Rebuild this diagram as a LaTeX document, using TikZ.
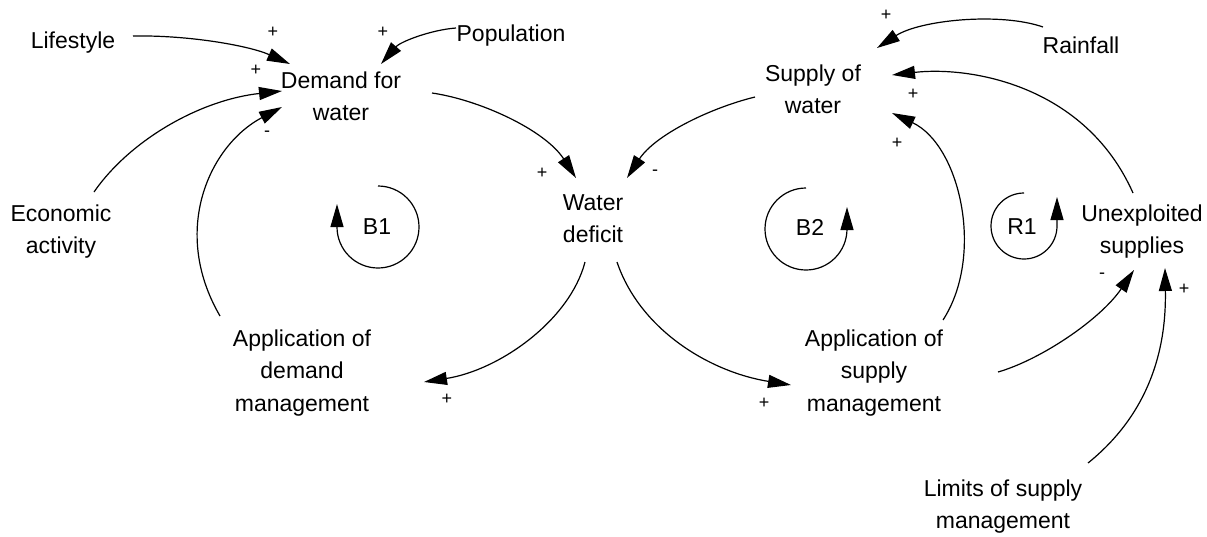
\documentclass[tikz,border=0pt]{standalone}
\usepackage{fontspec}
\setmainfont{Liberation Sans}
\usetikzlibrary{arrows.meta}
\begin{document}
\begin{tikzpicture}[x=1pt,y=-1pt,
  lbl/.style={font=\fontsize{23}{32.5}\selectfont, align=center, inner sep=0pt, anchor=base},
  sgn/.style={font=\fontsize{18}{18}\selectfont, inner sep=0pt},
  looplbl/.style={font=\fontsize{23}{23}\selectfont, inner sep=0pt},
  link/.style={line width=1.2pt, -{Triangle[length=23pt,width=13pt]}},
  loopline/.style={line width=1.2pt, -{Triangle[length=23pt,width=13pt]}}]
\useasboundingbox (0,0) rectangle (1207,536);

% variables (base anchor = baseline of the last line)
\node[lbl] (life) at (73,48) {Lifestyle};
\node[lbl] (pop) at (511,41) {Population};
\node[lbl] (dem) at (341,120.5) {Demand for\\water};
\node[lbl] (eco) at (61,253.5) {Economic\\activity};
\node[lbl] (wd) at (593,242.5) {Water\\deficit};
\node[lbl] (sup) at (813,113.5) {Supply of\\water};
\node[lbl] (rain) at (1081,53) {Rainfall};
\node[lbl] (unex) at (1142,253.5) {Unexploited\\supplies};
\node[lbl] (adm) at (302,411) {Application of\\demand\\management};
\node[lbl] (asm) at (874,411) {Application of\\supply\\management};
\node[lbl] (lim) at (1003,528.5) {Limits of supply\\management};

% loop labels
\node[looplbl] (b1) at (377,227) {B1};
\node[looplbl] (b2) at (810,227) {B2};
\node[looplbl] (r1) at (1022,227) {R1};

% connector end points
\coordinate (lifeOut) at (133,36);   \coordinate (demA) at (290,64);
\coordinate (popOut) at (456,28);    \coordinate (demB) at (381,64);
\coordinate (ecoOut) at (94,192);    \coordinate (demC) at (282,91);
\coordinate (admOut) at (220,316);   \coordinate (demD) at (282,107);
\coordinate (demOut) at (432,93);    \coordinate (wdA) at (576,178);
\coordinate (supOut) at (755,97);    \coordinate (wdB) at (627,178);
\coordinate (wdOutL) at (585,262);   \coordinate (admIn) at (424,382);
\coordinate (wdOutR) at (617,262);   \coordinate (asmIn) at (791,385);
\coordinate (rainOut) at (1043,27);  \coordinate (supA) at (877,48);
\coordinate (unexOut) at (1133,193); \coordinate (supB) at (892,75);
\coordinate (asmOutU) at (943,320);  \coordinate (supC) at (892,113);
\coordinate (asmOutR) at (998,372);  \coordinate (unexA) at (1134,270);
\coordinate (limOut) at (1088,463);  \coordinate (unexB) at (1165,268);

% causal links
\draw[link] (lifeOut) .. controls (190,35) and (250,46) .. (demA);
\draw[link] (popOut) .. controls (430,30) and (400,42) .. (demB);
\draw[link] (ecoOut) .. controls (130,140) and (200,100) .. (demC);
\draw[link] (admOut) .. controls (170,230) and (210,145) .. (demD);
\draw[link] (demOut) .. controls (480,100) and (545,130) .. (wdA);
\draw[link] (supOut) .. controls (710,108) and (655,135) .. (wdB);
\draw[link] (wdOutL) .. controls (570,320) and (500,370) .. (admIn);
\draw[link] (wdOutR) .. controls (640,330) and (710,372) .. (asmIn);
\draw[link] (rainOut) .. controls (1000,12) and (920,20) .. (supA);
\draw[link] (unexOut) .. controls (1085,85) and (970,66) .. (supB);
\draw[link] (asmOutU) .. controls (985,255) and (960,145) .. (supC);
\draw[link] (asmOutR) .. controls (1040,360) and (1100,320) .. (unexA);
\draw[link] (limOut) .. controls (1160,405) and (1166,330) .. (unexB);

% polarity signs
\node[sgn] (s1) at (273,32) {+};
\node[sgn] (s2) at (383,32) {+};
\node[sgn] (s3) at (256,70) {+};
\node[sgn] (s4) at (267,134) {-};
\node[sgn] (s5) at (542,173) {+};
\node[sgn] (s6) at (655,173) {-};
\node[sgn] (s7) at (447,399) {+};
\node[sgn] (s8) at (764,403) {+};
\node[sgn] (s9) at (886,15) {+};
\node[sgn] (s10) at (913,94) {+};
\node[sgn] (s11) at (897,143) {+};
\node[sgn] (s12) at (1102,276) {-};
\node[sgn] (s13) at (1184,289) {+};

% loop markers
\draw[loopline] (378,186) arc[start angle=-90, end angle=180, radius=41] -- (337,204);
\draw[loopline] (806,188) arc[start angle=-90, end angle=-360, radius=41] -- (847,207);
\draw[loopline] (1024,193) arc[start angle=-90, end angle=-360, radius=33] -- (1057,197);
\end{tikzpicture}
\end{document}
